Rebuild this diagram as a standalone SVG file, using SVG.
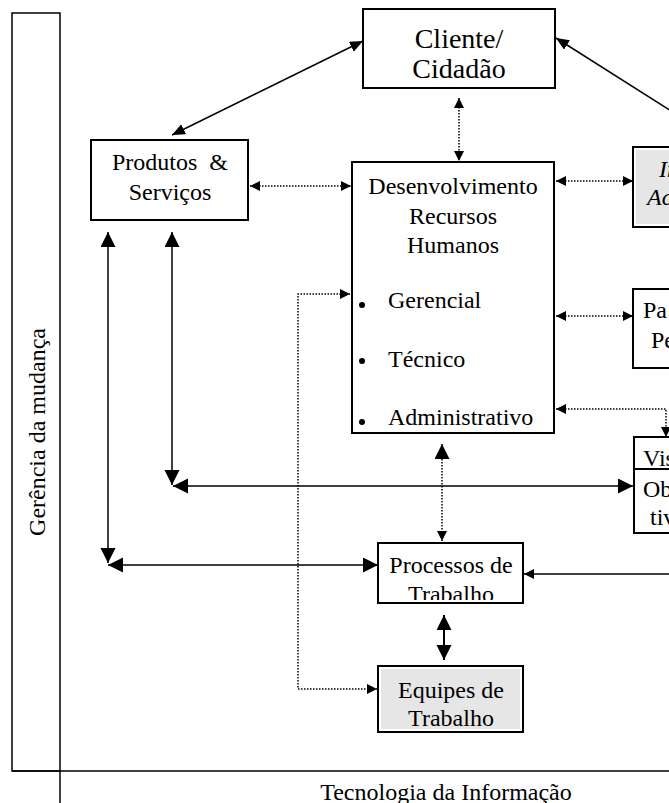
<svg xmlns="http://www.w3.org/2000/svg" width="669" height="803" viewBox="0 0 669 803">
<style>
text{font-family:"Liberation Serif","Times New Roman",serif;font-size:24px;fill:#000}
.c{text-anchor:middle}
.box{fill:#fff;stroke:#000;stroke-width:2}
.gray{fill:#e6e6e6;stroke:none}
.ln{fill:none;stroke:#000;stroke-width:1.5}
.dot{fill:none;stroke:#000;stroke-width:1.5;stroke-dasharray:1.5 1.5}
.thick{fill:none;stroke:#000;stroke-width:2}
</style>
<defs>
<marker id="big" markerUnits="userSpaceOnUse" markerWidth="16" markerHeight="16" refX="15" refY="7.5" orient="auto-start-reverse"><path d="M0,0 L15,7.5 L0,15 z" fill="#000"/></marker>
<marker id="med" markerUnits="userSpaceOnUse" markerWidth="14" markerHeight="12" refX="13" refY="5.5" orient="auto-start-reverse"><path d="M0,0 L13,5.5 L0,11 z" fill="#000"/></marker>
<marker id="sm" markerUnits="userSpaceOnUse" markerWidth="11" markerHeight="11" refX="10" refY="5" orient="auto-start-reverse"><path d="M0,0 L10,5 L0,10 z" fill="#000"/></marker>
<clipPath id="clipProc"><rect x="379" y="544" width="143" height="56"/></clipPath>
</defs>

<g id="frame">
<rect x="12" y="13" width="48" height="758" fill="none" stroke="#000" stroke-width="1.5"/>
<line x1="12" y1="771" x2="669" y2="771" stroke="#000" stroke-width="1.5"/>
<line x1="60" y1="771" x2="60" y2="803" stroke="#000" stroke-width="1.5"/>
<text transform="translate(45,432) rotate(-90)" class="c">Gerência da mudança</text>
<text x="446" y="800" class="c">Tecnologia da Informação</text>
</g>

<g id="connectors">
<line class="ln" x1="172" y1="135" x2="363" y2="41" marker-start="url(#med)" marker-end="url(#med)"/>
<line class="ln" x1="556" y1="38" x2="720" y2="142" marker-start="url(#med)"/>
<line class="dot" x1="459" y1="98" x2="459" y2="161" marker-start="url(#sm)" marker-end="url(#sm)"/>
<line class="dot" x1="250" y1="186" x2="351" y2="186" marker-start="url(#sm)" marker-end="url(#sm)"/>
<line class="dot" x1="556" y1="181" x2="633" y2="181" marker-start="url(#sm)" marker-end="url(#sm)"/>
<line class="dot" x1="556" y1="316" x2="633" y2="316" marker-start="url(#sm)" marker-end="url(#sm)"/>
<polyline class="dot" points="556,409 666,409 666,437" marker-start="url(#sm)" marker-end="url(#sm)"/>
<line class="ln" x1="108" y1="232" x2="108" y2="563" marker-start="url(#big)" marker-end="url(#big)"/>
<line class="ln" x1="108" y1="565" x2="378" y2="565" marker-start="url(#big)" marker-end="url(#big)"/>
<line class="ln" x1="172" y1="232" x2="172" y2="485" marker-start="url(#big)" marker-end="url(#big)"/>
<line class="ln" x1="173" y1="486" x2="633" y2="486" marker-start="url(#big)" marker-end="url(#big)"/>
<line class="dot" x1="442" y1="444" x2="442" y2="541" marker-start="url(#big)" marker-end="url(#sm)"/>
<polyline class="dot" points="350,294 298,294 298,689 377,689" marker-start="url(#sm)" marker-end="url(#sm)"/>
<line class="ln" x1="669" y1="574" x2="524" y2="574" marker-end="url(#sm)"/>
<line class="thick" x1="444" y1="615" x2="444" y2="660" marker-start="url(#big)" marker-end="url(#big)"/>
</g>

<g id="cliente">
<rect class="box" x="363" y="9" width="192" height="79"/>
<text x="459" y="48" class="c" style="font-size:28px">Cliente/</text>
<text x="459" y="78" class="c" style="font-size:28px">Cidadão</text>
</g>

<g id="produtos">
<rect class="box" x="91" y="140" width="157" height="80"/>
<text x="170" y="170" class="c" style="white-space:pre">Produtos  &amp;</text>
<text x="170" y="200" class="c">Serviços</text>
</g>

<g id="drh">
<rect class="box" x="352" y="162" width="202" height="271"/>
<text x="453" y="194" class="c">Desenvolvimento</text>
<text x="453" y="224" class="c">Recursos</text>
<text x="453" y="253" class="c">Humanos</text>
<circle cx="362" cy="305" r="3"/>
<circle cx="362" cy="361" r="3"/>
<circle cx="362" cy="422" r="3"/>
<text x="388" y="308">Gerencial</text>
<text x="388" y="367">Técnico</text>
<text x="388" y="425">Administrativo</text>
</g>

<g id="inovacao">
<rect class="box" x="633" y="147" width="60" height="80"/>
<rect class="gray" x="636" y="150" width="60" height="74"/>
<text x="659" y="177" style="font-style:italic">In</text>
<text x="647" y="205" style="font-style:italic">Ac</text>
</g>

<g id="parceria">
<rect class="box" x="633" y="289" width="60" height="79"/>
<text x="643" y="318">Pa</text>
<text x="651" y="348">Pe</text>
</g>

<g id="visao">
<rect class="box" x="634" y="437" width="60" height="32"/>
<text x="643" y="466">Vis</text>
<rect class="box" x="634" y="469" width="60" height="64"/>
<text x="643" y="497">Ob</text>
<text x="650" y="525">tiv</text>
</g>

<g id="processos">
<rect class="box" x="378" y="543" width="145" height="60"/>
<g clip-path="url(#clipProc)">
<text x="451" y="573" class="c">Processos de</text>
<text x="451" y="602" class="c">Trabalho</text>
</g>
</g>

<g id="equipes">
<rect class="box" x="378" y="666" width="145" height="66"/>
<rect class="gray" x="381" y="669" width="139" height="60"/>
<text x="451" y="698" class="c">Equipes de</text>
<text x="451" y="726" class="c">Trabalho</text>
</g>
</svg>
